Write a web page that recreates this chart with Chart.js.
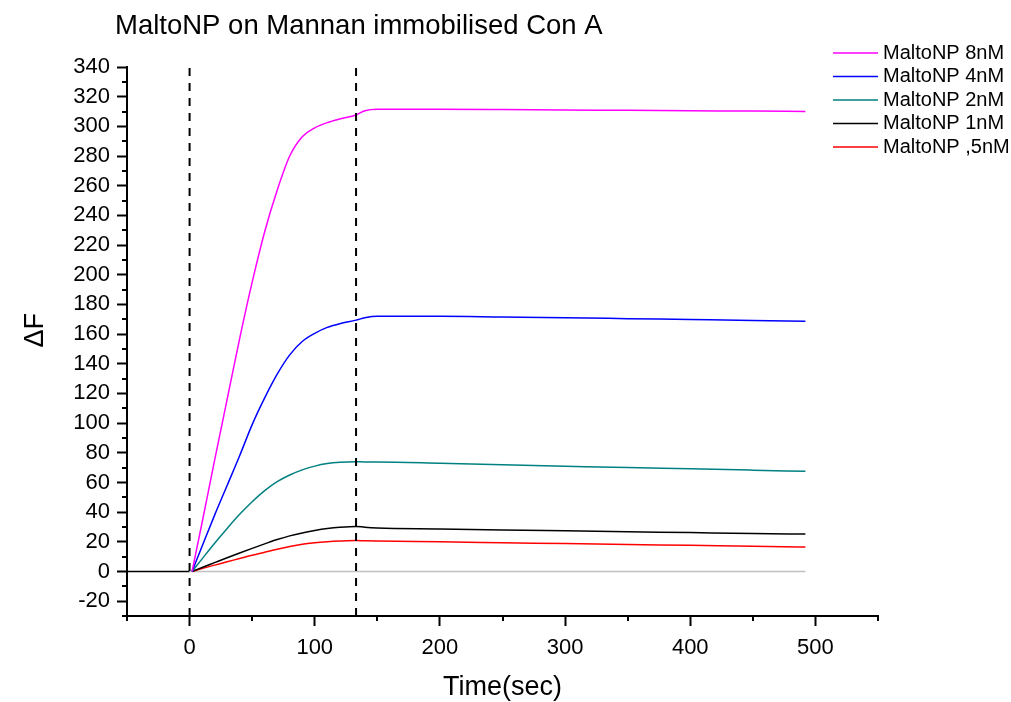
<!DOCTYPE html>
<html>
<head>
<meta charset="utf-8">
<title>MaltoNP on Mannan immobilised Con A</title>
<script src="https://cdn.jsdelivr.net/npm/chart.js@4.4.0/dist/chart.umd.min.js"></script>
<style>
  html, body { margin: 0; padding: 0; background: #fff; }
  #wrap { width: 1011px; height: 702px; }
</style>
</head>
<body>
<div id="wrap"><canvas id="bindChart" width="1011" height="702"></canvas></div>
<script>
// ------------------- DATA -------------------
const chartTitle = "MaltoNP on Mannan immobilised Con A";

// time points (sec) shared by all five curves
const timeSec = [2, 10, 20, 30, 40, 50, 60, 70, 80, 90, 100, 110, 120, 133, 140, 150, 200, 250, 300, 350, 400, 450, 492];

const malto8nM  = [0, 33, 75, 116, 157, 195, 229, 257, 280, 293, 299, 302.5, 305, 307.7, 310.5, 311.5, 311.5, 311.3, 311, 310.8, 310.5, 310.3, 310];
const malto4nM  = [0, 17, 38, 58, 78, 99, 117, 133, 146, 155, 160.5, 164.5, 167, 169.4, 171, 172, 172, 171.5, 171, 170.4, 169.8, 169.2, 168.6];
const malto2nM  = [0, 8.5, 19, 29, 38.5, 47, 54.5, 60.5, 65, 68.5, 71, 72.7, 73.6, 74, 73.8, 73.8, 73, 72, 71, 70, 69.2, 68.3, 67.5];
const malto1nM  = [0, 2.7, 6, 9.3, 12.5, 15.6, 18.6, 21.5, 24, 26, 27.6, 28.9, 29.8, 30.4, 29.8, 29.3, 28.7, 28, 27.4, 26.8, 26.2, 25.6, 25.2];
const malto05nM = [0, 2, 4.3, 6.5, 8.8, 11, 13, 15, 16.8, 18.3, 19.3, 20, 20.5, 20.9, 20.7, 20.5, 20, 19.4, 18.8, 18.2, 17.6, 17, 16.5];

const seriesLabels = ["MaltoNP 8nM", "MaltoNP 4nM", "MaltoNP 2nM", "MaltoNP 1nM", "MaltoNP ,5nM"];
const seriesValues = [malto8nM, malto4nM, malto2nM, malto1nM, malto05nM];
const seriesColors = ["#ff00ff", "#0000ff", "#008080", "#000000", "#ff0000"];

// baseline before / after injection
const preBaseX = [-50, 0];
const baseX = [0, 492];

// injection start and end markers
const markerTimes = [0, 133];

// axes
const xMin = -50, xMax = 550;
const yMin = -30, yMax = 340;
const xTicks = [0, 100, 200, 300, 400, 500];
const xMinorTicks = [-50, 50, 150, 250, 350, 450, 550];
const yTicks = [-20, 0, 20, 40, 60, 80, 100, 120, 140, 160, 180, 200, 220, 240, 260, 280, 300, 320, 340];
const yMinorTicks = [-30, -10, 10, 30, 50, 70, 90, 110, 130, 150, 170, 190, 210, 230, 250, 270, 290, 310, 330];

// ------------------- DATASETS -------------------
const toPoints = (xs, ys) => xs.map((x, i) => ({ x: x, y: ys[i] }));

const datasets = seriesLabels.map((label, i) => ({
  label: label,
  data: toPoints(timeSec, seriesValues[i]),
  borderColor: seriesColors[i],
  borderWidth: 1.5,
  pointRadius: 0,
  cubicInterpolationMode: "monotone",
  order: 1
}));

datasets.push({
  label: "_base",
  data: toPoints(baseX, baseX.map(() => 0)),
  borderColor: "#c0c0c0",
  borderWidth: 1.5,
  pointRadius: 0,
  order: 10
});
datasets.push({
  label: "_prebase",
  data: toPoints(preBaseX, preBaseX.map(() => 0)),
  borderColor: "#000000",
  borderWidth: 1.5,
  pointRadius: 0,
  order: 10
});
markerTimes.forEach(t => {
  datasets.push({
    label: "_marker",
    data: toPoints([t, t], [yMin, yMax]),
    borderColor: "#000000",
    borderWidth: 2,
    borderDash: [8, 7],
    pointRadius: 0,
    order: 0
  });
});

// ------------------- PLUGINS -------------------
const FONT = "Liberation Sans, Arial, sans-serif";

// minor ticks, half length of the major ones
const minorTicks = {
  id: "minorTicks",
  afterDraw(chart) {
    const { ctx, chartArea, scales } = chart;
    ctx.save();
    ctx.strokeStyle = "#000";
    ctx.lineWidth = 2;
    ctx.beginPath();
    xMinorTicks.forEach(v => {
      const px = Math.round(scales.x.getPixelForValue(v));
      ctx.moveTo(px, chartArea.bottom);
      ctx.lineTo(px, chartArea.bottom + 5);
    });
    yMinorTicks.forEach(v => {
      const py = Math.round(scales.y.getPixelForValue(v));
      ctx.moveTo(chartArea.left, py);
      ctx.lineTo(chartArea.left - 5, py);
    });
    ctx.stroke();
    ctx.restore();
  }
};

// title and legend placed like the original figure
const titleAndLegend = {
  id: "titleAndLegend",
  afterDraw(chart) {
    const ctx = chart.ctx;
    ctx.save();
    ctx.fillStyle = "#000";
    ctx.font = "27.5px " + FONT;
    ctx.textAlign = "left";
    ctx.textBaseline = "alphabetic";
    ctx.fillText(chartTitle, 115, 34);

    ctx.font = "20px " + FONT;
    ctx.textBaseline = "middle";
    seriesLabels.forEach((label, i) => {
      const y = 53 + i * 23.5;
      ctx.strokeStyle = seriesColors[i];
      ctx.lineWidth = 1.5;
      ctx.beginPath();
      ctx.moveTo(833, y);
      ctx.lineTo(878, y);
      ctx.stroke();
      ctx.fillText(label, 883, y);
    });
    ctx.restore();
  }
};

// ------------------- CHART -------------------
const ctx = document.getElementById("bindChart").getContext("2d");

const bindChart = new Chart(ctx, {
  type: "line",
  data: { datasets: datasets },
  options: {
    responsive: false,
    animation: false,
    layout: { padding: { top: 67, right: 133, left: 0, bottom: 0 } },
    scales: {
      x: {
        type: "linear",
        min: xMin,
        max: xMax,
        afterBuildTicks: scale => { scale.ticks = xTicks.map(v => ({ value: v })); },
        afterFit: scale => { scale.height = 86; },
        grid: {
          drawOnChartArea: false,
          drawTicks: true,
          tickLength: 10,
          tickWidth: 2,
          tickColor: "#000"
        },
        border: { color: "#000", width: 2 },
        ticks: {
          color: "#000",
          padding: 9,
          maxRotation: 0,
          font: { family: FONT, size: 22 }
        },
        title: {
          display: true,
          text: "Time(sec)",
          color: "#000",
          font: { family: FONT, size: 27, lineHeight: 1 },
          padding: { top: 0, bottom: 1 }
        }
      },
      y: {
        type: "linear",
        min: yMin,
        max: yMax,
        afterBuildTicks: scale => { scale.ticks = yTicks.map(v => ({ value: v })); },
        afterFit: scale => { scale.width = 127; },
        grid: {
          drawOnChartArea: false,
          drawTicks: true,
          tickLength: 10,
          tickWidth: 2,
          tickColor: "#000"
        },
        border: { color: "#000", width: 2 },
        ticks: {
          color: "#000",
          padding: 7,
          font: { family: FONT, size: 22 }
        },
        title: {
          display: true,
          text: "   ΔF",
          color: "#000",
          font: { family: FONT, size: 27, lineHeight: 1 },
          padding: { top: 22, bottom: 0 }
        }
      }
    },
    plugins: {
      legend: { display: false },
      title: { display: false },
      tooltip: { enabled: false }
    }
  },
  plugins: [minorTicks, titleAndLegend]
});
</script>
</body>
</html>
